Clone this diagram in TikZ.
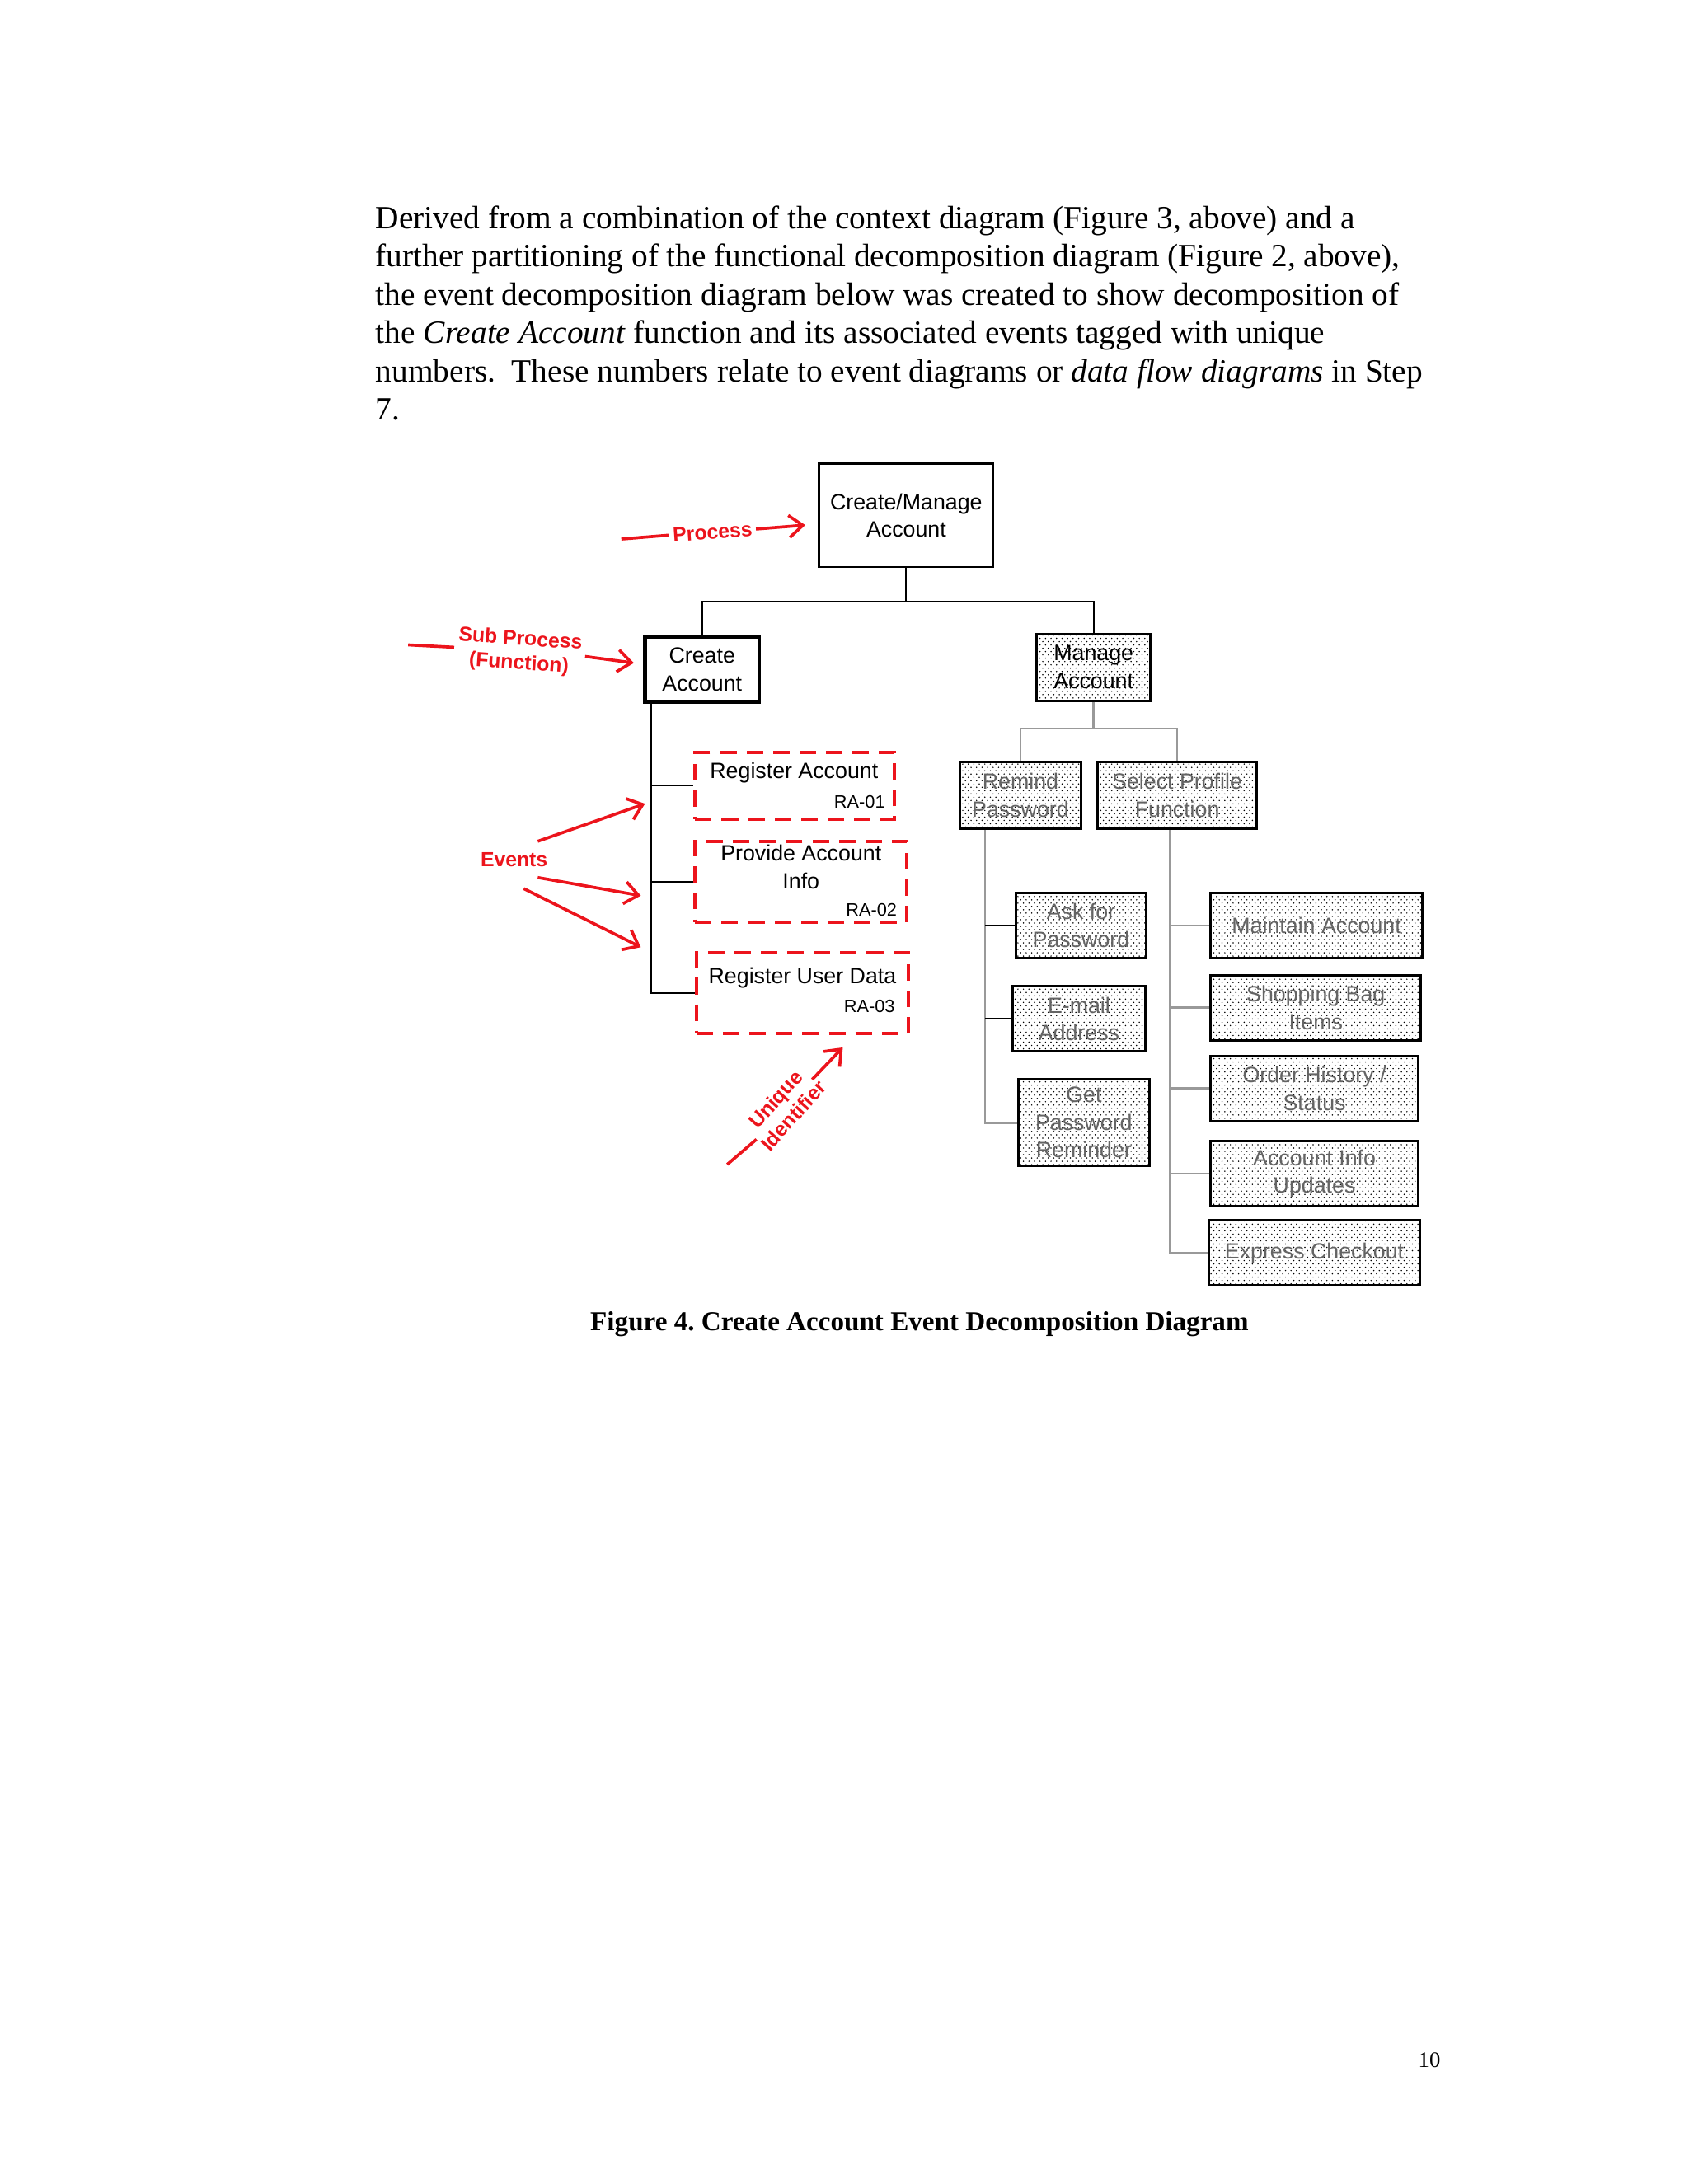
\documentclass[tikz,border=0pt]{standalone}
\usepackage{fontspec}
\setmainfont{Liberation Serif}
\newfontfamily\arialfont{Liberation Sans}
\usetikzlibrary{arrows.meta,patterns}

\definecolor{markred}{RGB}{236,20,28}
\definecolor{fadegray}{RGB}{100,100,100}

\pgfdeclarepatternformonly{finedots}{\pgfqpoint{-0.3pt}{-0.3pt}}{\pgfqpoint{1.3pt}{1.5pt}}{\pgfqpoint{2pt}{2.4pt}}{%
  \pgfpathcircle{\pgfqpoint{0pt}{0pt}}{0.25pt}\pgfpathcircle{\pgfqpoint{1pt}{1.2pt}}{0.25pt}\pgfusepath{fill}}

\tikzset{every picture/.style={line width=0.75pt}}
\tikzset{
  chartbox/.style={draw, line width=0.8pt, align=center, inner sep=0pt, font=\arialfont\fontsize{8}{10}\selectfont},
  dotbox/.style={chartbox, line width=0.9pt, pattern=finedots, pattern color=black, text=fadegray},
  eventbox/.style={draw=markred, line width=1.2pt, dash pattern=on 6pt off 3.6pt, inner sep=0pt},
  eventtext/.style={font=\arialfont\fontsize{8}{10}\selectfont, align=center, inner sep=0pt},
  idtext/.style={font=\arialfont\fontsize{6.5}{8}\selectfont, inner sep=0pt, anchor=east},
  marknote/.style={text=markred, font=\arialfont\bfseries\fontsize{7.4}{8.8}\selectfont, align=center, inner sep=1pt},
  markline/.style={draw=markred, line width=1.1pt},
  markarrow/.style={markline, -{Straight Barb[length=5pt,width=8pt]}},
  treeline/.style={line width=0.6pt},
  fadeline/.style={draw=black!40, line width=0.8pt},
  bodytext/.style={anchor=base west, inner sep=0pt, font=\fontsize{11.76}{13.8}\selectfont},
}

\begin{document}
\begin{tikzpicture}[x=0.505pt,y=0.505pt,yscale=-1,xscale=1]
\useasboundingbox (0,0) rectangle (1212,1568);

% Text Node
\draw (269,164.3) node [bodytext] (line1) {Derived from a combination of the context diagram (Figure 3, above) and a};
% Text Node
\draw (269,191.7) node [bodytext] (line2) {further partitioning of the functional decomposition diagram (Figure 2, above),};
% Text Node
\draw (269,219.1) node [bodytext] (line3) {the event decomposition diagram below was created to show decomposition of};
% Text Node
\draw (269,246.6) node [bodytext] (line4) {the \textit{Create Account} function and its associated events tagged with unique};
% Text Node
\draw (269,274.0) node [bodytext] (line5) {numbers.\ \ These numbers relate to event diagrams or \textit{data flow diagrams} in Step};
% Text Node
\draw (269,301.4) node [bodytext] (line6) {7.};

%Shape: Rectangle [Create/Manage]
\draw (650.5,370) node [chartbox, minimum width=63.1pt, minimum height=37.4pt] (cma) {Create/Manage\\Account};
%Shape: Rectangle [Create Account]
\draw (504,480.5) node [chartbox, line width=1.4pt, minimum width=41.4pt, minimum height=23.7pt] (ca) {Create\\Account};
%Shape: Rectangle [Manage Account]
\draw (785,479) node [dotbox, text=black, minimum width=41.4pt, minimum height=24.2pt] (ma) {Manage\\Account};

%Shape: Dashed Rectangles [events]
\draw (570.5,564) node [eventbox, minimum width=72.2pt, minimum height=24.2pt] (ra1) {};
\draw (575,633) node [eventbox, minimum width=76.8pt, minimum height=29.3pt] (ra2) {};
\draw (576,713) node [eventbox, minimum width=76.8pt, minimum height=29.3pt] (ra3) {};
% Text Node
\draw (570,555) node [eventtext] (ra1t) {Register Account};
\draw (636,575.5) node [idtext] (ra1id) {RA-01};
% Text Node
\draw (575,622.5) node [eventtext] (ra2t) {Provide Account\\Info};
\draw (644.5,653.5) node [idtext] (ra2id) {RA-02};
% Text Node
\draw (576,702) node [eventtext] (ra3t) {Register User Data};
\draw (643,722.5) node [idtext] (ra3id) {RA-03};

%Shape: Dotted Rectangles [manage side]
\draw (732.5,571) node [dotbox, minimum width=43.9pt, minimum height=24.2pt] (rp) {Remind\\Password};
\draw (845,571) node [dotbox, minimum width=57.6pt, minimum height=24.2pt] (spf) {Select Profile\\Function};
\draw (776,664.5) node [dotbox, minimum width=47.5pt, minimum height=23.7pt] (afp) {Ask for\\Password};
\draw (774.5,731.5) node [dotbox, minimum width=48pt, minimum height=23.7pt] (ema) {E-mail\\Address};
\draw (778,806) node [dotbox, minimum width=47.5pt, minimum height=31.3pt] (gpr) {Get\\Password\\Reminder};
\draw (945,664.5) node [dotbox, minimum width=76.8pt, minimum height=23.7pt] (mac) {Maintain Account};
\draw (944.5,723.5) node [dotbox, minimum width=76.3pt, minimum height=23.7pt] (sbi) {Shopping Bag\\Items};
\draw (943.5,781.5) node [dotbox, minimum width=75.2pt, minimum height=23.7pt] (ohs) {Order History /\\Status};
\draw (943.5,842.5) node [dotbox, minimum width=75.2pt, minimum height=23.7pt] (aiu) {Account Info\\Updates};
\draw (943.5,899.5) node [dotbox, minimum width=76.3pt, minimum height=23.7pt] (exc) {Express Checkout};

%Straight Lines [top tree]
\coordinate (j1) at (650.5,432);
\draw [treeline] (cma.south) -- (j1) -| (ca.north);
\draw [treeline] (j1) -| (ma.north);
%Straight Lines [events trunk]
\coordinate (cat) at ([xshift=3pt]ca.south west);
\draw [treeline] (cat) |- (ra3.west);
\draw [treeline] (cat |- ra1.west) -- (ra1.west);
\draw [treeline] (cat |- ra2.west) -- (ra2.west);
%Straight Lines [manage tree]
\coordinate (j2) at (785,523);
\draw [fadeline] (ma.south) -- (j2) -| (rp.north);
\draw [fadeline] (j2) -| (spf.north);
\coordinate (rpt) at ([xshift=9.6pt]rp.south west);
\draw [fadeline] (rpt) |- (gpr.west);
\draw [treeline] (rpt |- afp.west) -- (afp.west);
\draw [treeline] (rpt |- ema.west) -- (ema.west);
\coordinate (spt) at ([xshift=-2.5pt]spf.south);
\draw [fadeline] (spt) |- (exc.west);
\foreach \t in {mac,sbi,ohs,aiu} {
  \draw [fadeline] (spt |- \t.west) -- (\t.west);
}

% Text Node [Process]
\draw (511.5,382) node [marknote, rotate=4] (proc) {Process};
\coordinate (procL) at (446,387);
\coordinate (procT) at (578,377);
\draw [markline] (procL) -- (proc.west);
\draw [markarrow] (proc.east) -- (procT);

% Text Node [Sub Process]
\draw (373,468) node [marknote, rotate=-4] (sub) {Sub Process\\(Function)};
\coordinate (subL) at (293,463);
\coordinate (subT) at (455,476);
\draw [markline] (subL) -- (sub.west);
\draw [markarrow] (sub.east) -- (subT);

% Text Node [Events]
\draw (369,617) node [marknote] (ev) {Events};
\coordinate (evA) at (386,604);
\coordinate (evB) at (386,630);
\coordinate (evC) at (376,638);
\draw [markarrow] (evA) -- (463,577);
\draw [markarrow] (evB) -- (460,643);
\draw [markarrow] (evC) -- (460,680);

% Text Node [Unique Identifier]
\draw (563,795) node [marknote, rotate=48] (uid) {Unique\\Identifier};
\coordinate (uidL) at (522,836);
\coordinate (uidT) at (605,752);
\draw [markline] (uidL) -- (543,818);
\draw [markarrow] (583,775) -- (uidT);

% Text Node
\draw (660,955) node [anchor=base, inner sep=0pt, font=\bfseries\fontsize{9.9}{12}\selectfont] (cap) {Figure 4.\ Create Account Event Decomposition Diagram};
% Text Node
\draw (1026,1484) node [anchor=base, inner sep=0pt, font=\fontsize{8}{10}\selectfont] (pno) {10};

\end{tikzpicture}
\end{document}
